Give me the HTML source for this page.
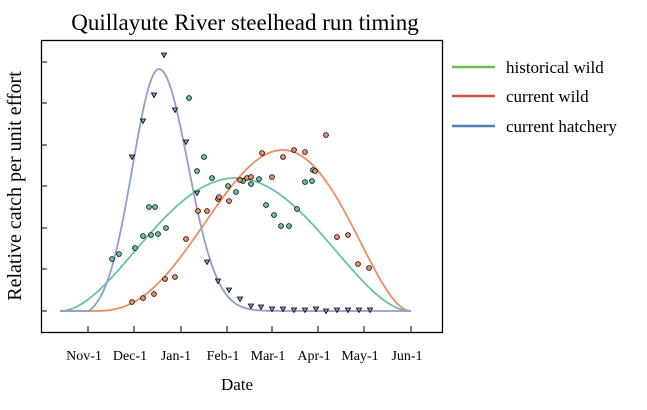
<!DOCTYPE html>
<html><head><meta charset="utf-8"><style>
body{margin:0;background:#fff;width:647px;height:405px;overflow:hidden}
svg text{font-family:"Liberation Serif",serif;fill:#000}
</style></head><body>
<svg id="s" width="647" height="405" xmlns="http://www.w3.org/2000/svg">
<text x="245" y="30" font-size="23" text-anchor="middle">Quillayute River steelhead run timing</text>
<rect x="41.5" y="40.5" width="401" height="292" fill="none" stroke="#000" stroke-width="1.3"/>
<g stroke="#000" stroke-width="1">
<line x1="88" y1="332" x2="88" y2="326"/><line x1="134" y1="332" x2="134" y2="326"/><line x1="181" y1="332" x2="181" y2="326"/><line x1="227" y1="332" x2="227" y2="326"/><line x1="272" y1="332" x2="272" y2="326"/><line x1="318" y1="332" x2="318" y2="326"/><line x1="364" y1="332" x2="364" y2="326"/><line x1="411" y1="332" x2="411" y2="326"/>
<line x1="42" y1="62" x2="47" y2="62"/><line x1="42" y1="103" x2="47" y2="103"/><line x1="42" y1="145" x2="47" y2="145"/><line x1="42" y1="186" x2="47" y2="186"/><line x1="42" y1="228" x2="47" y2="228"/><line x1="42" y1="269" x2="47" y2="269"/><line x1="42" y1="311" x2="47" y2="311"/>
</g>
<g font-size="14" text-anchor="middle">
<text x="84" y="360">Nov-1</text><text x="130" y="360">Dec-1</text><text x="176" y="360">Jan-1</text><text x="223" y="360">Feb-1</text><text x="268" y="360">Mar-1</text><text x="314" y="360">Apr-1</text><text x="360" y="360">May-1</text><text x="407" y="360">Jun-1</text>
</g>
<text x="237" y="390" font-size="17" text-anchor="middle">Date</text>
<text transform="translate(21,186) rotate(-90)" font-size="20" text-anchor="middle">Relative catch per unit effort</text>
<g stroke-width="2.5">
<line x1="452" y1="67" x2="495" y2="67" stroke="#6fbf4f"/>
<line x1="452" y1="96" x2="495" y2="96" stroke="#c8573c"/>
<line x1="452" y1="126" x2="495" y2="126" stroke="#4f80b8"/>
</g>
<g font-size="17"><text x="506" y="73">historical wild</text><text x="506" y="102">current wild</text><text x="506" y="132">current hatchery</text></g>
<g id="c" fill="none" stroke-width="1.8"></g>
<g id="p" stroke="#000" stroke-width="0.8"></g>
</svg>
<script>
var c=document.getElementById('c'),p=document.getElementById('p'),NS='http://www.w3.org/2000/svg';
function path(f,col){var d='';for(var x=60;x<=411;x+=1){d+=(x==60?'M':'L')+x+','+f(x).toFixed(1);}var e=document.createElementNS(NS,'path');e.setAttribute('d',d);e.setAttribute('stroke',col);c.appendChild(e);}
path(function(x){var t=(x-60)/351;return 311-133*Math.pow(t*(1-t),2)/0.0625;},'#66c2a5');
path(function(x){if(x<90)return 311;var t=(x-90)/321;return 311-161*Math.pow(t,3)*Math.pow(1-t,2)/0.03456;},'#f08a62');
path(function(x){var v;if(x<159){var g=Math.exp(-Math.pow((x-159)/26.5,2)/2);v=Math.max(0,(g-0.03)/0.97);}else{v=Math.exp(-Math.pow((x-159)/29,2)/2);}return 311-242*v;},'#8d9fcb');
function dots(a,col){a.forEach(function(q){var e=document.createElementNS(NS,'circle');e.setAttribute('cx',q[0]);e.setAttribute('cy',q[1]);e.setAttribute('r',2.4);e.setAttribute('fill',col);p.appendChild(e);});}
function tris(a){a.forEach(function(q){var e=document.createElementNS(NS,'polygon');var x=q[0],y=q[1];e.setAttribute('points',(x-2.6)+','+(y-2)+' '+(x+2.6)+','+(y-2)+' '+x+','+(y+2.6));e.setAttribute('fill','#8d9fcb');p.appendChild(e);});}
dots([[189,98],[204,157],[197,171],[212,178],[149,207],[155,207],[166,228],[158,234],[151,235],[143,236],[135,248],[119,254],[112,259],[228,186],[243,181],[236,192],[251,184],[259,179],[266,205],[274,215],[281,226],[289,226],[297,209],[312,181],[313,170],[305,182]],'#66c2a5');
dots([[132,302],[143,298],[154,294],[165,279],[175,277],[186,239],[198,211],[207,211],[218,199],[219,197],[229,201],[240,180],[247,178],[251,177],[262,153],[272,177],[283,157],[294,150],[305,152],[315,171],[326,135],[337,237],[348,235],[358,264],[369,268]],'#f08a62');
tris([[164,55],[154,95],[175,110],[143,121],[132,157],[207,262],[218,281],[229,290],[240,299],[251,306],[261,307],[272,309],[283,309],[294,310],[305,310],[316,309],[326,311],[337,310],[348,310],[359,310],[370,310],[197,193],[186,142]]);
</script>
</body></html>
